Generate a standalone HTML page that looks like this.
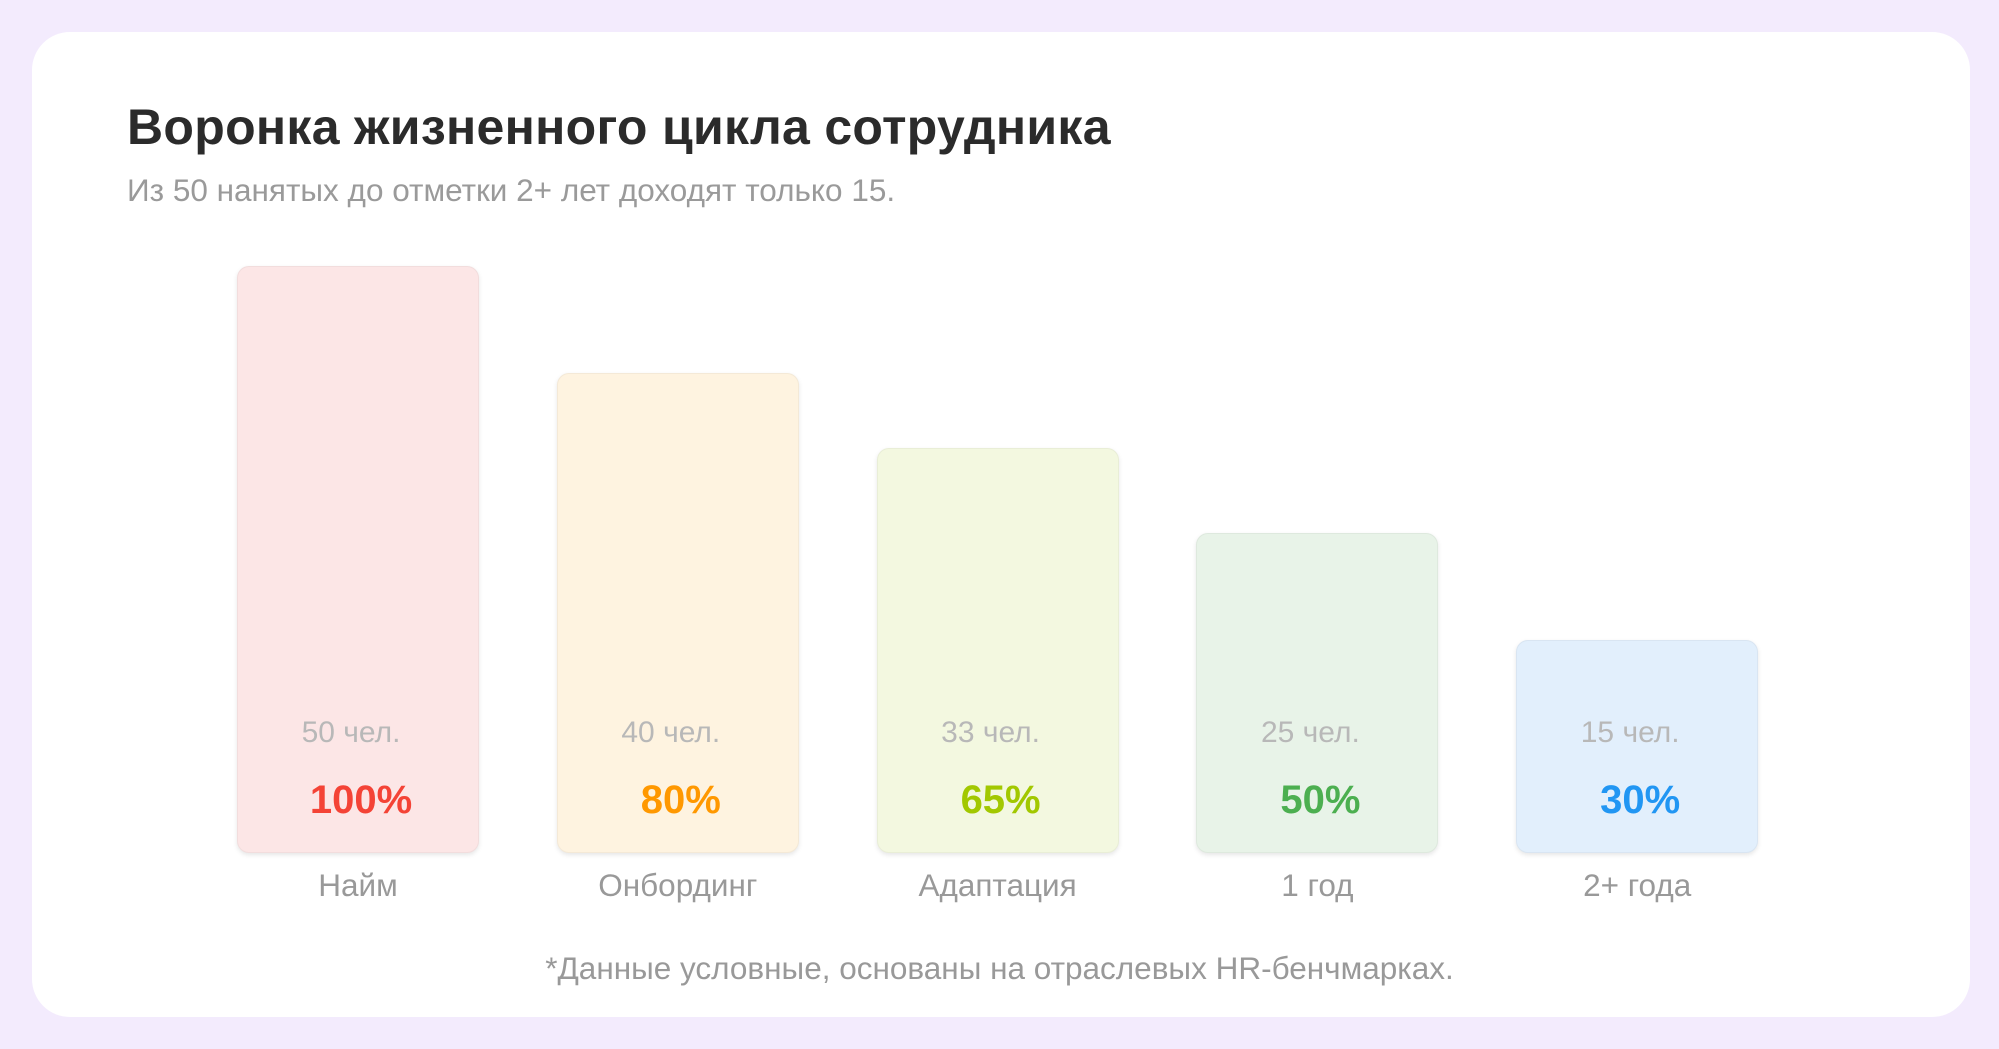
<!DOCTYPE html>
<html><head><meta charset="utf-8">
<style>
html,body{margin:0;padding:0;}
body{width:1999px;height:1049px;background:#f3ebfd;position:relative;overflow:hidden;font-family:"Liberation Sans","Noto Sans CJK SC",sans-serif;}
#card{position:absolute;left:32px;top:32px;width:1938px;height:985px;background:#fff;border-radius:38px;}
#title{position:absolute;left:127px;top:98px;font-size:50px;font-weight:bold;color:#2b2b2b;margin:0;letter-spacing:0.3px;}
#subtitle{position:absolute;left:127px;top:172px;font-size:31.5px;color:#9a9a9a;}
.bar{position:absolute;border-radius:12px;box-shadow:0 2px 5px rgba(0,0,0,0.10);box-sizing:border-box;border:1.5px solid rgba(0,0,0,0.04);}
.cnt{position:absolute;width:242px;text-align:center;font-size:30px;color:#b8b8b8;}
.pct{position:absolute;width:242px;text-align:center;font-size:40px;font-weight:bold;}
.cat{position:absolute;width:300px;text-align:center;font-size:31.5px;color:#999;}
#note{position:absolute;left:0;width:1999px;top:950px;text-align:center;font-size:31.5px;color:#999;}
</style></head>
<body>
<div id="card"></div>
<h1 id="title">Воронка жизненного цикла сотрудника</h1>
<div id="subtitle">Из 50 нанятых до отметки 2+ лет доходят только 15.</div>
<div id="chart"></div>
<div id="note">*Данные условные, основаны на отраслевых HR-бенчмарках.</div>
<script>
const categories = ["Найм","Онбординг","Адаптация","1 год","2+ года"];
const people = [50,40,33,25,15];
const percents = [100,80,65,50,30];
const fills = ["#fce6e6","#fef3e0","#f3f8e0","#e8f3e8","#e2effc"];
const textColors = ["#f44336","#ff9800","#a2c800","#4caf50","#2196f3"];

const baseY = 853, barW = 242, x0 = 237, pitch = 319.8;
function yScale(v){ return 53 + 10.68 * v; }
function xPos(i){ return x0 + i * pitch; }

const chart = document.getElementById('chart');
categories.forEach((c,i)=>{
  const h = yScale(people[i]);
  const x = xPos(i);
  const bar = document.createElement('div');
  bar.className='bar';
  
  
  bar.style.left = x+'px'; bar.style.top = (baseY-h)+'px';
  bar.style.width = barW+'px'; bar.style.height = h+'px';
  bar.style.background = fills[i];
  chart.appendChild(bar);

  const cnt = document.createElement('div');
  cnt.className='cnt';
  
  
  cnt.style.left = (x-7)+'px'; cnt.style.top = '716px';
  cnt.textContent = people[i] + ' чел.';
  chart.appendChild(cnt);

  const pct = document.createElement('div');
  pct.className='pct';
  
  
  pct.style.left = (x+3)+'px'; pct.style.top = '778px';
  pct.style.color = textColors[i];
  pct.textContent = percents[i] + '%';
  chart.appendChild(pct);

  const cat = document.createElement('div');
  cat.className='cat';
  
  
  cat.style.left = (x + barW/2 - 150)+'px'; cat.style.top = '867px';
  cat.textContent = c;
  chart.appendChild(cat);
});
</script>
</body></html>
